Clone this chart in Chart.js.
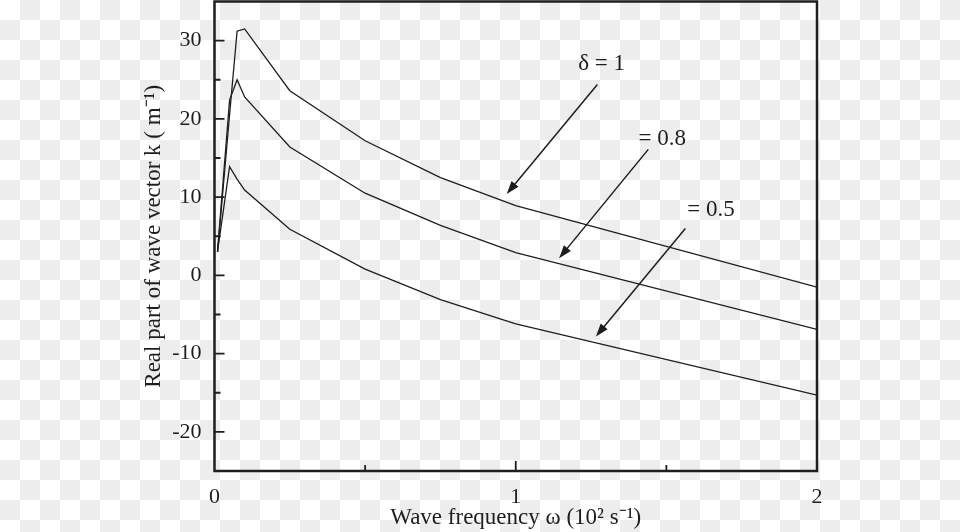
<!DOCTYPE html>
<html>
<head>
<meta charset="utf-8">
<script src="https://cdn.jsdelivr.net/npm/chart.js@4.4.1/dist/chart.umd.min.js"></script>
<style>
  html, body { margin: 0; padding: 0; }
  body {
    width: 960px; height: 532px; overflow: hidden;
    background-color: #fff;
    background-image: conic-gradient(#ededed 0 25%, #fff 0 50%, #ededed 0 75%, #fff 0);
    background-size: 40px 40px;
  }
  canvas { display: block; }
</style>
</head>
<body>
<canvas id="waveChart" width="960" height="532"></canvas>
<script>
// wave frequency (10^2 s^-1) at the kinks of the curves
const omega = [0.01, 0.05, 0.075, 0.1, 0.25, 0.5, 0.75, 1, 2];
// real part of wave vector k (m^-1)
const kDelta1 = [3, 20.5, 31.2, 31.5, 23.6, 17.2, 12.5, 8.9, -1.5];
const kDelta08 = [3, 22.4, 25.0, 22.8, 16.4, 10.5, 6.4, 2.9, -6.9];
const kDelta05 = [3, 13.9, 12.3, 10.9, 5.9, 0.8, -3.1, -6.2, -15.3];

const seriesNames = ['δ = 1', '= 0.8', '= 0.5'];
// label position and arrow (from -> tip), in data units
const labelPos = [[1.285, 27.0], [1.486, 17.4], [1.648, 8.35]];
const arrowFrom = [[1.271, 24.4], [1.440, 16.1], [1.563, 6.0]];
const arrowTip = [[0.970, 10.4], [1.144, 2.2], [1.266, -7.8]];

const xTicks = [0, 1, 2];
const yTicks = [-20, -10, 0, 10, 20, 30];

const ink = '#1e1e1e';
const serif = '"Liberation Serif", "Times New Roman", serif';

function toPoints(ys) {
  return omega.map((x, i) => ({ x: x, y: ys[i] }));
}

// box, inward ticks, arrows and curve labels
const framePlugin = {
  id: 'frame',
  afterDatasetsDraw(chart) {
    const ctx = chart.ctx;
    const a = chart.chartArea;
    const xs = chart.scales.x, ys = chart.scales.y;
    ctx.save();
    ctx.strokeStyle = ink;
    ctx.lineWidth = 2.5;
    ctx.strokeRect(a.left, a.top, a.right - a.left, a.bottom - a.top);

    ctx.lineWidth = 1.8;
    ctx.beginPath();
    for (let v = -20; v <= 30; v += 5) {
      const p = ys.getPixelForValue(v);
      const len = v % 10 === 0 ? 10 : 6;
      ctx.moveTo(a.left, p);
      ctx.lineTo(a.left + len, p);
    }
    for (let v = 0.5; v < 2; v += 0.5) {
      const p = xs.getPixelForValue(v);
      const len = Number.isInteger(v) ? 10 : 6;
      ctx.moveTo(p, a.bottom);
      ctx.lineTo(p, a.bottom - len);
    }
    ctx.stroke();

    ctx.fillStyle = ink;
    ctx.font = '23px ' + serif;
    ctx.textAlign = 'center';
    ctx.textBaseline = 'middle';
    for (let i = 0; i < seriesNames.length; i++) {
      ctx.fillText(seriesNames[i], xs.getPixelForValue(labelPos[i][0]), ys.getPixelForValue(labelPos[i][1]));
      const x0 = xs.getPixelForValue(arrowFrom[i][0]), y0 = ys.getPixelForValue(arrowFrom[i][1]);
      const x1 = xs.getPixelForValue(arrowTip[i][0]), y1 = ys.getPixelForValue(arrowTip[i][1]);
      const ang = Math.atan2(y1 - y0, x1 - x0);
      const headLen = 13, headW = 4.5;
      ctx.lineWidth = 1.5;
      ctx.beginPath();
      ctx.moveTo(x0, y0);
      ctx.lineTo(x1 - Math.cos(ang) * headLen * 0.8, y1 - Math.sin(ang) * headLen * 0.8);
      ctx.stroke();
      const bx = x1 - Math.cos(ang) * headLen, by = y1 - Math.sin(ang) * headLen;
      ctx.beginPath();
      ctx.moveTo(x1, y1);
      ctx.lineTo(bx + Math.sin(ang) * headW, by - Math.cos(ang) * headW);
      ctx.lineTo(bx - Math.sin(ang) * headW, by + Math.cos(ang) * headW);
      ctx.closePath();
      ctx.fill();
    }
    ctx.restore();
  }
};

const lineStyle = {
  borderColor: ink,
  borderWidth: 1.3,
  pointRadius: 0,
  tension: 0,
  fill: false
};

new Chart(document.getElementById('waveChart'), {
  type: 'line',
  data: {
    datasets: [
      Object.assign({ label: seriesNames[0], data: toPoints(kDelta1) }, lineStyle),
      Object.assign({ label: seriesNames[1], data: toPoints(kDelta08) }, lineStyle),
      Object.assign({ label: seriesNames[2], data: toPoints(kDelta05) }, lineStyle)
    ]
  },
  options: {
    responsive: false,
    animation: false,
    layout: { padding: { top: 1.5, right: 143, left: 0, bottom: 0 } },
    plugins: { legend: { display: false }, tooltip: { enabled: false } },
    scales: {
      x: {
        type: 'linear',
        min: 0, max: 2,
        afterFit(scale) {
          scale.height = 61;
          scale.paddingLeft = 0;
          scale.paddingRight = 0;
        },
        afterBuildTicks(scale) { scale.ticks = xTicks.map(v => ({ value: v })); },
        grid: { display: false, drawTicks: false },
        border: { display: false },
        ticks: { color: ink, padding: 13, font: { family: serif, size: 22 } },
        title: {
          display: true,
          text: 'Wave frequency ω (10² s⁻¹)',
          color: ink,
          padding: { top: 0, bottom: 0 },
          font: { family: serif, size: 23 }
        }
      },
      y: {
        min: -25, max: 35,
        afterFit(scale) {
          scale.width = 214.5;
          scale.paddingTop = 0;
          scale.paddingBottom = 0;
        },
        afterBuildTicks(scale) { scale.ticks = yTicks.map(v => ({ value: v })); },
        grid: { display: false, drawTicks: false },
        border: { display: false },
        ticks: { color: ink, padding: 13, font: { family: serif, size: 22 } },
        title: {
          display: true,
          text: 'Real part of wave vector k ( m⁻¹)',
          color: ink,
          padding: { top: 140, bottom: 0 },
          font: { family: serif, size: 23 }
        }
      }
    }
  },
  plugins: [framePlugin]
});
</script>
</body>
</html>
